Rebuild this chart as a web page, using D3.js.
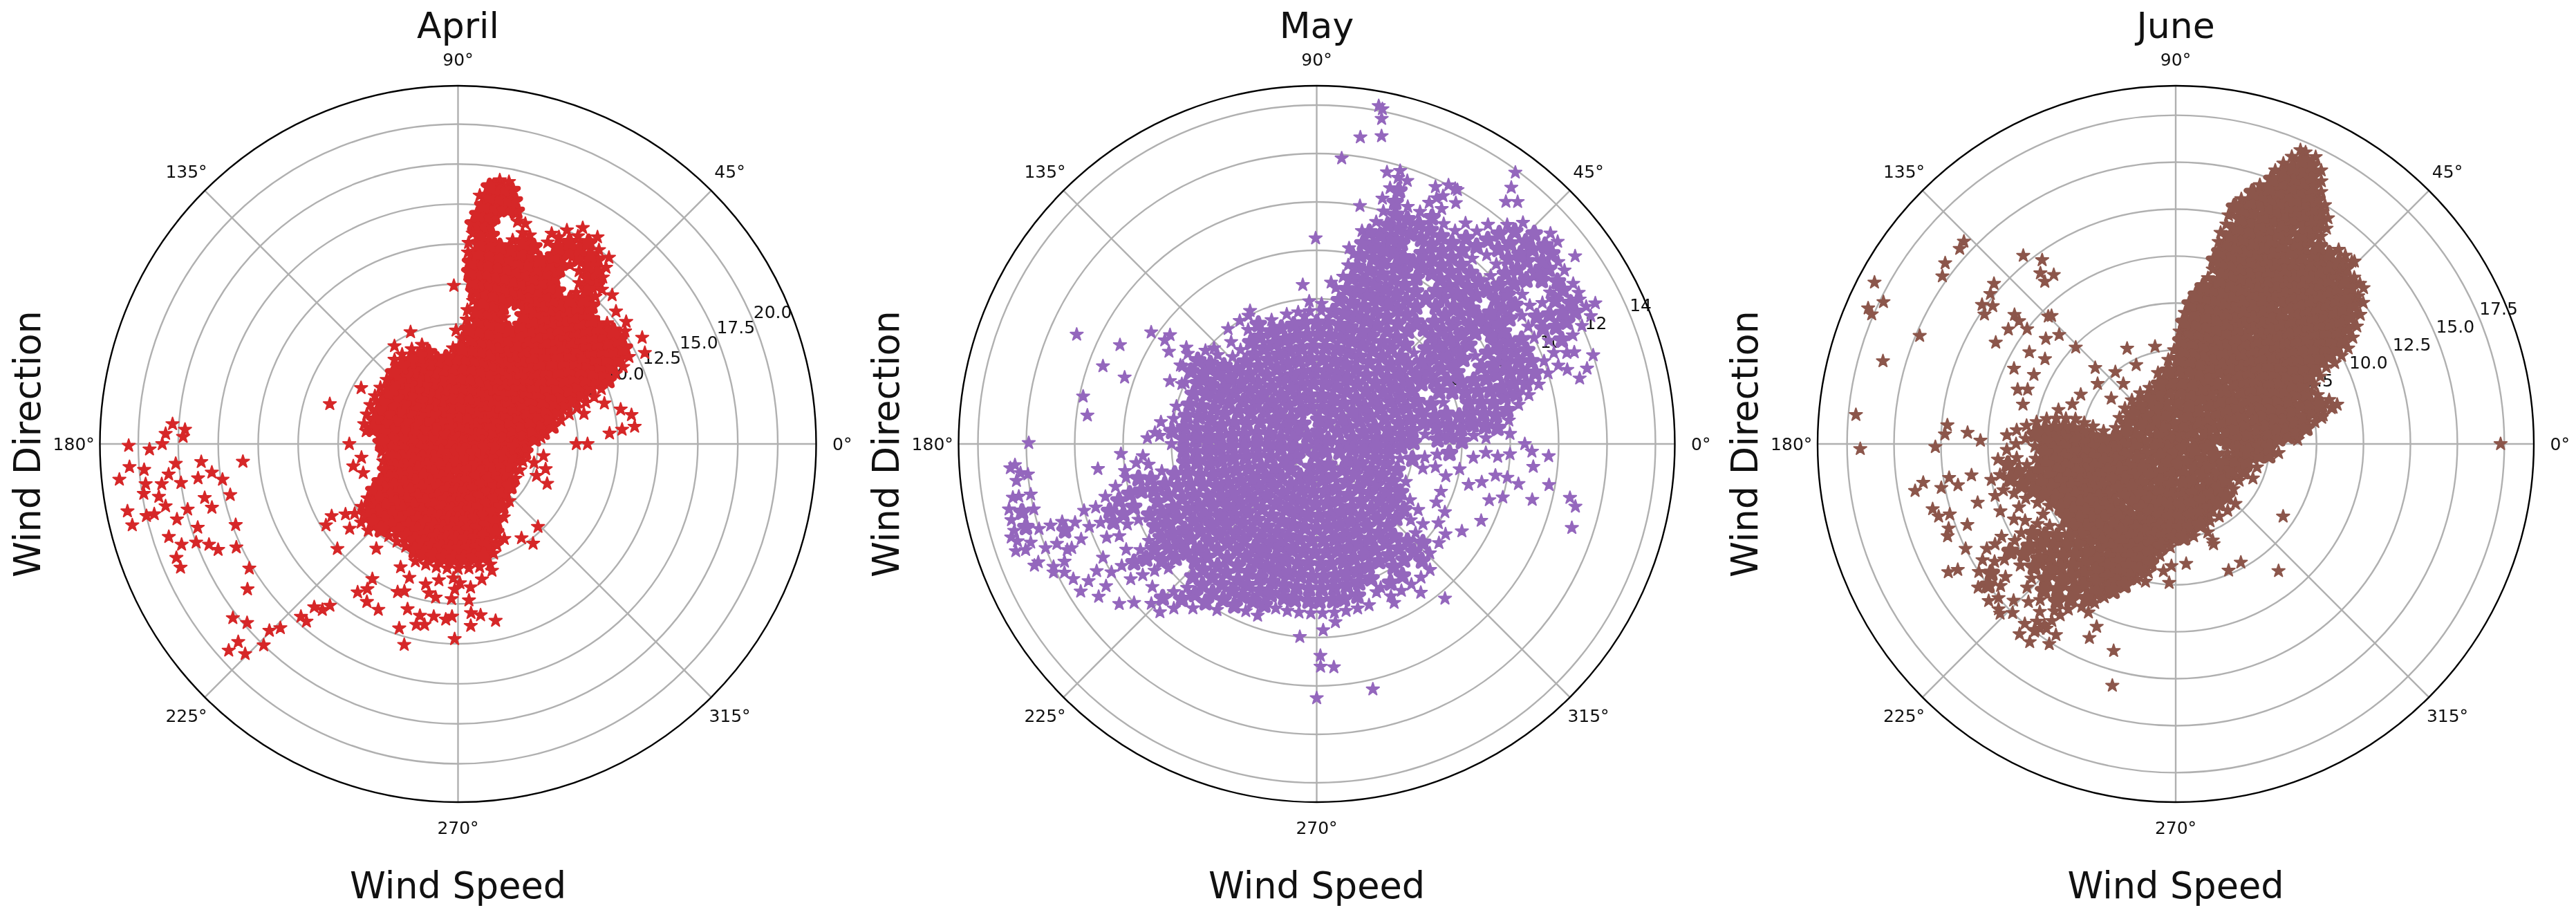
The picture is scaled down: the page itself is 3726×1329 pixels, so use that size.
<!DOCTYPE html>
<html><head><meta charset="utf-8">
<script src="https://cdn.jsdelivr.net/npm/d3@7/dist/d3.min.js"></script>
<style>html,body{margin:0;background:#fff}svg{display:block;filter:blur(0.7px)}text{font-family:"DejaVu Sans";fill:#111}</style>
</head><body><svg id="c" width="3726" height="1329"></svg>
<script>
const months=["April","May","June"];
const monthColors=["#d62728","#9467bd","#8c564b"];
const speedLimits=[22.4,14.8,19.07];
const angleTicks=[0,45,90,135,180,225,270,315];
const aprilSpeedTicks=[2.5,5,7.5,10,12.5,15,17.5,20];
const maySpeedTicks=[2,4,6,8,10,12,14];
const juneSpeedTicks=[2.5,5,7.5,10,12.5,15,17.5];

// dense cloud, read as [speed, [directions at that speed]]
const aprilDense=[
[.1,[0]],
[.6,[10,70,130,190,250,310]],
[1.2,[0,32,61,88,120,149,181,208,242,268,300,331]],
[1.8,[12,33,52,71,93,112,133,151,172,193,211,232,251,273,292,313,334,352]],
[2.4,[5,19,33,47,60,75,88,103,117,131,146,160,174,188,203,216,231,245,258,273,287,301,316,329,344,356]],
[3,[0,11,23,34,44,56,67,78,90,100,112,123,134,146,156,168,179,190,201,213,224,235,246,257,269,280,291,302,313,325,336,347]],
[3.6,[6,15,24,33,42,51,60,69,78,87,96,105,114,123,132,141,150,159,168,177,186,195,204,213,222,231,240,249,258,267,276,285,294,303,312,321,330,339,348,357]],
[4.2,[1,9,17,25,33,41,49,57,65,73,81,89,97,105,113,121,129,137,145,153,161,169,177,185,193,201,209,217,225,233,241,249,257,265,273,281,289,297,305,313,321,329,337,345,353]],
[4.8,[4,11,18,25,32,39,46,53,60,67,74,81,88,95,102,109,116,123,130,137,144,151,158,165,172,179,186,193,200,207,214,221,228,235,242,249,256,263,270,277,284,291,298,305,312]],
[5.4,[8,14,20,26,32,38,44,50,56,62,68,74,80,86,92,98,104,110,116,122,128,134,140,146,152,158,164,170,206,212,218,224,230,236,242,248,254,260,266,272,278,284,290,296,302]],
[6,[11,16,22,27,33,38,44,49,55,60,66,71,77,82,88,93,108,114,120,126,132,138,144,150,156,162,168,209,215,221,227,233,239,245,251,257,263,269,275,281,287,293]],
[6.6,[13,18,23,28,33,38,43,48,53,58,63,68,73,78,83,88,110,116,122,127,211,216,221,226,231,236,241,246,251,256,261,266,271,276,281,286,291]],
[7.2,[15,20,25,30,35,40,45,50,55,60,65,70,75,80,85,213,218,223,228,233,238,243,248,253,258,263,268,273,278,283,288]],
[7.8,[17,21,26,31,36,41,46,51,56,61,66,71,76,81,86,214,219,224,250,255,260,265,270,275,280,285]],
[8.4,[18,22,26,30,34,38,42,46,50,54,58,62,70,74,78,82,86]],
[9,[19,23,27,31,35,39,43,47,51,55,59,63,72,76,80,84]],
[9.6,[21,25,28,32,35,39,42,46,49,53,56,60,63,67,70,74,77,81,84]],
[10.2,[23,26,29,32,35,38,41,44,47,50,53,56,59,62,65,68,71,74,77,80,83,85]],
[10.8,[24,27,30,33,36,39,42,45,48,51,54,57,60,63,66,69,72,75,78,81,84,86]],
[11.4,[25,28,31,34,37,40,43,46,49,52,57,60,63,66,69,72,75,78,81,84,86]],
[12,[27,30,33,36,39,46,49,52,60,63,66,69,72,75,78,81,84,87]],
[12.6,[34,47,50,53,60,63,66,70,72,75,78,81,84,87]],
[13.2,[47,49,52,55,58,61,63,69,72,75,81,84,86]],
[13.8,[49,51,54,57,60,63,66,71,73,82,84,86]],
[14.4,[50,53,55,58,61,64,66,73,75,81,83,85]],
[15,[51,54,57,60,63,76,78,80,82,84]],
[15.6,[56,60,77,79,81,83,85]],
[16.2,[78,80,82,83]],
[16.7,[79,81]]
];
// separate stars, read as [direction, speed]
const aprilStrays=[[176,17.9],[177,17.1],[178,18.3],[180.3,20.6],[178.5,17.2],[180,18.5],[181,19.3],[184,20.6],[186,21.3],[184.7,19.7],[184,17.7],[186,18.2],[187.3,19.7],[189,19.9],[187.7,18.7],[190,19],[192,18.7],[188,17.5],[191.5,21.1],[194,21],[193,20],[193,19.5],[195,18.2],[193.6,17.4],[197.8,19],[200,18.4],[202,19],[204,19],[184,16.1],[184.7,13.5],[187.5,16.4],[186.6,15.5],[188.6,14.9],[192,16.2],[194.5,15.9],[192.6,14.6],[200,14.8],[197.8,17.1],[200.6,17.5],[202,16.8],[203.8,16.4],[205,15.3],[210.8,15.2],[214.6,16],[217.7,17.8],[220.3,17.3],[222,19.3],[222,18.5],[224.6,18.7],[226,17.5],[224.7,16.6],[226,16],[227.7,14.6],[228.6,13.6],[231.6,12.9],[229.5,14.6],[230.7,13.4],[221,10],[211.6,9.7],[209.7,9.1],[237.6,10],[235.9,11.2],[240,11.4],[244.3,11.5],[238,10.7],[247.8,10],[250,9.8],[252.3,12.1],[255,13],[253,10.8],[257.5,11],[257,11.6],[259.5,11.5],[262,10.9],[257,9],[259,9.5],[261.7,9.7],[266,11],[268,10.8],[269,12.2],[267.6,9.7],[268.7,9.1],[270.8,8.7],[275,9],[274,9.8],[274.4,10.6],[274,11.4],[277.5,10.8],[282,11.3],[304,7.1],[307,7.8],[314,7.2],[285,8.2],[291,6.8],[162.7,8.4],[0,7.4],[0,8.1],[4,9.5],[5,10.3],[5.6,11.1],[9.5,11],[12,10.4],[15.5,9.5],[13.5,8.1],[4.5,5.2],[352,5.4],[344,5.7],[336,6.1],[346,4.9],[338,5.3],[352,4],[180,6.8],[192,6.7],[188,6.1],[197,6.2],[212,8.3],[218,8.6],[232,8.3],[245,8.5],[250,8.9],[262,8.6],[268,8.4],[280,8.6],[296,6.6],[172,5.8],[150,7],[123,7.3],[113,7.6],[91,7.1],[91.5,9.9],[30,13.3],[26,13],[36,13],[44,13.4],[40,12.9]];

const mayDense=[
[.1,[0]],
[.5,[20,80,140,200,260,320]],
[1,[0,30,60,85,125,150,170,195,215,255,280,300,340]],
[1.5,[9,27,45,63,81,99,117,135,153,171,189,207,225,243,261,279,297,315,333,351]],
[2,[0,14,28,42,56,70,84,98,112,126,140,154,168,182,196,210,224,238,252,266,280,294,308,322,336,350]],
[2.5,[5,16,27,38,49,60,71,82,93,104,115,126,137,148,159,170,181,192,203,214,225,236,247,258,269,280,291,302,313,324,335,346,357]],
[3,[2,11,20,29,38,47,56,65,74,83,92,101,110,119,128,137,146,155,164,173,182,191,200,209,218,227,236,245,254,263,272,281,290,299,308,317,326,335,344,353]],
[3.5,[6,14,22,30,38,46,54,62,70,78,86,94,102,110,118,126,134,142,150,158,166,174,182,190,198,206,214,222,230,238,246,254,262,270,278,286,294,302,310,318,326,334,342,350,358]],
[4,[1,8,15,22,29,36,43,50,57,64,71,78,85,92,99,106,113,120,127,134,141,148,155,162,169,176,183,190,197,204,211,218,225,232,239,246,253,260,267,274,281,288,295,302,309,316,323,330,337,351]],
[4.5,[5,11,17,23,29,35,41,47,53,59,65,71,77,83,89,95,101,107,113,119,125,131,137,143,149,155,161,167,173,179,185,191,197,203,209,215,221,227,233,239,245,251,257,263,269,275,281,287,293,299,305,311,317,323,329,347,353]],
[5,[2,8,13,19,30,35,41,46,52,57,63,68,74,79,85,90,96,101,107,112,118,123,129,134,140,145,151,156,162,167,173,178,184,189,195,200,206,211,217,222,228,233,239,244,250,255,261,266,272,277,283,288,294,299,305,310,321,327,349,355]],
[5.5,[3,8,13,18,23,28,33,38,43,48,53,58,63,68,73,78,83,88,93,98,103,116,121,138,143,148,153,158,163,168,173,178,183,188,193,198,203,208,213,218,223,228,233,238,243,248,253,258,263,268,273,278,283,288,293,298,303,308,313,318,323,334,339,346,356]],
[6,[1,6,11,21,26,31,36,41,51,56,61,66,71,76,81,118,122,140,145,150,155,165,170,175,180,192,197,202,207,212,217,222,227,232,237,242,247,252,257,262,267,272,277,282,287,292,302,307,312,317,327,332,350]],
[6.5,[3,7,11,15,19,23,27,31,35,39,43,47,51,55,59,63,67,71,75,79,83,145,150,172,177,190,195,199,204,208,213,217,222,226,231,235,240,244,249,253,258,262,267,271,276,280,285,294,298,303,312,316,321,325,345,355]],
[7,[2,6,10,14,18,22,30,34,38,42,46,54,58,62,66,70,74,78,81,187,192,196,200,204,208,212,216,220,224,228,232,236,240,244,248,252,256,260,264,272,276,280,284,288,296,300,304,308,312,329,347,357]],
[7.5,[5,9,13,17,21,25,29,33,37,41,45,49,53,57,61,65,69,73,77,80,186,191,195,203,207,211,215,219,227,231,235,239,243,247,251,335,342,350,356]],
[8,[3,7,10,14,17,21,24,28,35,38,42,45,49,52,59,63,66,70,73,77,79,190,195,199,203,210,213,217,220,228,231,235,239,344,350,357]],
[8.5,[11,14,17,20,23,26,29,32,35,38,41,44,47,50,53,56,59,62,65,68,71,74,77,192,196,200,203,211,214,218,226,229,233]],
[9,[13,16,19,22,25,28,31,34,37,43,46,49,52,55,58,61,67,70,73,76,78,194,198,201,205,209,213,217,221,225,229]],
[9.5,[15,18,21,24,27,33,36,39,42,45,48,51,54,57,60,63,66,69,72,75,196,200,204,212,216,224,227]],
[10,[17,20,26,29,32,35,38,41,44,50,53,56,59,62,65,68,71,74,196,200,208,212,221]],
[10.5,[18,21,24,27,30,33,36,39,42,45,48,51,54,57,60,63,66,69,72,75,198,202,210,214,219]],
[11,[20,23,26,29,32,38,41,44,47,50,53,56,62,65,72,74,199,203,211,215,197]],
[11.5,[23,26,28,31,33,36,38,41,43,46,49,52,60,63,71,73,197,201,205,209,212]],
[12,[24,27,29,32,34,37,39,42,44,47,49,61,63,186,190,193,197,201,205]],
[12.5,[25,27,30,32,35,37,39,41,44,47,184,187,190,193,196,199,203]],
[13,[40,42,192,194,196,198]]
];
const mayStrays=[[78.9,14.1],[79.6,14.2],[78.7,13.7],[81.9,12.8],[78.1,13],[85,11.85],[75.5,11.6],[73,11.8],[79.7,10],[65.2,11.7],[61.5,12],[64,11.3],[90.3,8.5],[80.6,8.2],[95,6.6],[84.9,6.7],[36,13.2],[53.8,13.9],[52.8,13.3],[52,12.7],[50.3,13],[28.8,12.4],[26.8,12.9],[15.6,11.6],[17.8,12],[19.6,11.3],[14,11.2],[16.5,10.8],[357,9.6],[350,9.75],[345.5,9.2],[348,10.7],[346.4,11],[341.8,11.1],[354,9],[348.8,8.5],[0,8.6],[358,8.9],[305,7.5],[309.7,8.3],[296,7.3],[292,6.6],[265,8],[271,8.75],[271,9.2],[274.4,9.25],[282.9,10.4],[270,10.5],[268,7],[276,7.4],[272,7.7],[155.5,10.9],[153.3,9.1],[160,9.4],[160.9,8.4],[168.5,9.85],[172.9,9.55],[179.8,11.9],[146,8.25],[145.7,7.6],[143.4,7.55],[143.5,6.7],[148,7.2],[149.8,6.4],[156.8,6.6],[156,6.1],[182.9,8.1],[186.5,9.1],[137,5.8],[127.6,6],[116.6,6.15],[110,5.45],[130,5.5],[95.4,5.3],[93,5.9],[88,5.8],[184.5,12.7],[185.6,12.3],[203.3,12.7],[207,11.7],[203,11.2],[199.6,13.2],[200,12.8],[190,12.75],[178,7],[176,6.7],[184,7.2],[188,8],[206,12.1],[197,13.2]];

const juneDense=[
[.1,[0]],
[.5,[30,90,150,210,270,330]],
[1.1,[10,40,70,100,130,160,190,220,250,280,310,340]],
[1.7,[0,22,44,66,88,110,132,154,176,198,220,242,264,286,308,330,352]],
[2.2,[8,24,40,56,72,88,104,120,136,152,168,184,200,216,232,248,264,280,296,312,328,344]],
[2.8,[2,14,26,38,50,62,74,86,98,110,122,134,146,158,170,182,194,206,218,230,242,254,266,278,290,302,314,326,338,350]],
[3.3,[5,15,25,35,45,55,65,75,85,95,105,115,125,135,145,155,165,175,185,195,205,215,225,235,245,255,265,275,285,295,305,315,325,335,345,355]],
[3.9,[0,8,16,24,32,40,48,56,64,72,80,88,96,104,170,178,186,194,202,210,218,226,234,242,250,258,266,274,282,290,298,306,314,322,330,338,346,354]],
[4.5,[4,11,18,25,32,39,46,53,60,67,74,81,88,95,168,175,182,189,196,203,210,217,224,231,238,245,252,259,266,273,280,287,294,301,308,315,336,344,352,358]],
[5,[1,7,13,19,25,31,37,43,49,55,61,67,73,79,85,91,167,173,179,185,191,197,203,209,215,221,227,233,239,245,251,257,263,269,275,281,290,353,358]],
[5.5,[3,9,15,21,27,33,39,45,51,57,63,69,75,81,87,166,172,178,184,190,196,202,208,214,220,226,232,238,244,250,256,262,267,291,355]],
[6,[4,9,14,19,24,29,34,39,44,49,54,59,64,69,74,79,84,88,167,172,177,182,187,192,197,202,207,212,217,222,227,232,237,242,247,252,257,262]],
[6.5,[2,6,11,16,21,26,31,36,41,46,51,56,61,66,71,76,81,86,168,173,178,183,188,193,198,203,208,213,218,223,228,233,238,243,248,253,258]],
[7,[7,12,17,22,27,32,37,42,47,52,57,62,67,72,77,82,86,169,174,179,184,189,194,199,204,209,214,219,224,229,234,239,244,249,254,258]],
[7.5,[9,13,17,21,25,29,33,37,41,45,49,53,57,61,65,69,73,77,81,84,171,176,181,186,191,196,201,206,216,221,226,231,236,241,246,251,254]],
[8,[11,15,19,23,27,31,35,39,43,47,51,55,59,63,67,71,75,79,82,173,178,188,193,198,203,208,213,218,223,228,233,238,243,247,250]],
[8.5,[13,16,25,29,33,37,41,45,49,53,57,61,65,69,73,77,80,175,180,185,190,195,200,210,215,220,225,230,235,240,245,247]],
[9,[27,31,35,39,43,47,51,55,59,63,67,71,75,79,177,182,187,192,197,202,207,212,217,222,227,232,237,242,245]],
[9.5,[27,30,33,36,39,42,45,48,51,54,57,60,63,66,69,72,75,78,185,190,195,205,210,215,220,225,230,235,240,243]],
[10,[28,31,34,37,40,43,46,49,52,55,58,61,64,67,70,73,76,78,191,196,201,211,216,221,226,231,236,240]],
[10.5,[29,32,35,38,41,44,47,50,53,56,59,62,65,68,71,74,77,208,213,218,223,228,233,237]],
[11,[31,34,37,40,43,46,49,52,55,58,61,64,67,70,73,76,78,209,214,224,229,234,236]],
[11.5,[33,36,39,42,45,48,51,54,57,60,63,66,69,72,75,78,209,213,218,227,231,235]],
[12,[35,38,41,44,47,50,53,56,59,62,65,68,71,74,77,211,215,219,224,232,235]],
[12.5,[37,39,42,44,47,49,52,54,57,59,62,64,67,69,72,74,77,213,217,221,226,230,233]],
[13,[41,43,46,48,51,54,57,59,62,64,67,69,72,74,76,216,220,224]],
[13.5,[46,48,50,55,57,59,61,63,65,67,69,71,73,75]],
[14,[55,57,59,61,63,65,67,69,71,73]],
[14.5,[56,58,60,62,64,66,68,70,72]],
[15,[58,60,62,64,66,68,70]],
[15.5,[60,62,64,66,68,70]],
[16,[61,63,65,67,69]],
[16.5,[62,64,66,68]],
[17,[64,66,67]]
];
const juneStrays=[[0,17.3],[326,6.9],[309,8.7],[298.8,7.2],[292.7,7.3],[275,6.4],[267.3,7.4],[268,6.5],[257.6,7.5],[264.5,6.8],[290.7,5.7],[295,4.2],[253.3,11.5],[255.3,13.3],[246.6,10.6],[246,11.3],[242.6,10.1],[237.9,12],[237.7,12.6],[233.6,13.1],[230.6,13.1],[233.7,12.2],[234,11.9],[232.9,12.4],[223,12.9],[13.7,8.85],[13,8.6],[10.2,7.9],[45.6,13.6],[39.7,13],[46.6,12.7],[136.3,15.6],[137.9,15.5],[141.9,15.6],[144.3,15.3],[151.8,18.2],[154.1,17.3],[156.2,17.9],[156.9,17.6],[157.1,14.8],[164.2,16.2],[174.8,17.1],[180.9,16.8],[129,12.9],[126,12.1],[128.4,11.6],[125.8,11.1],[128.9,11.1],[138.6,12.9],[141,12.7],[144.3,12.7],[143,12.2],[145.9,12.3],[141.3,11],[141.9,10.6],[145.6,10.8],[142.3,10],[135,9.6],[134.1,9.5],[136.9,8.5],[141,8.9],[150.6,11],[147.9,9.2],[147,8.3],[154,8.4],[155,9.5],[136,7.4],[136.6,5.9],[117,5.7],[130,5],[116.6,4.7],[102,5.3],[142.4,5.25],[131,4.25],[161,8.9],[159.8,8.4],[165.5,8.4],[163.8,6.5],[159,5.9],[152.5,5.7],[144.8,4.2],[175.3,12.2],[177.6,12.3],[176.9,11.1],[179,10.4],[180.7,12.8],[188.7,13.6],[190.2,14.1],[190.6,12.7],[188.5,12.2],[190.7,11.8],[188.7,11],[196.5,11],[195,13.4],[197,13.2],[197.3,12.6],[200.4,12.9],[202,13.1],[201.2,11.9],[206.5,12.5],[209.4,13.9],[210,13.4]];

const denseRows=[aprilDense,mayDense,juneDense];
const strayRows=[aprilStrays,mayStrays,juneStrays];
const speedTickRows=[aprilSpeedTicks,maySpeedTicks,juneSpeedTicks];
const speedFormats=[d3.format(".1f"),d3.format("d"),d3.format(".1f")];
const coreStroke=[7.5,7,7.5];
const neighbourReach=[25,29,25];

const panelLeft=[662.5,1904.5,3147], centerY=642, radiusMax=518;
const svg=d3.select("#c");
const angle=d3.scaleLinear().domain([0,360]).range([Math.PI/2,Math.PI/2-2*Math.PI]);
const star=d3.symbol().type(d3.symbolStar).size(105)();

months.forEach((month,i)=>{
  const radius=d3.scaleLinear().domain([0,speedLimits[i]]).range([0,radiusMax]);
  const at=d=>d3.pointRadial(angle(d[0]),radius(d[1]));
  const place=d=>`translate(${at(d)})`;
  const g=svg.append("g").attr("transform",`translate(${panelLeft[i]},${centerY})`);
  const grid=g.append("g").attr("fill","none").attr("stroke","#b0b0b0").attr("stroke-width",2.4);
  grid.selectAll("circle").data(speedTickRows[i]).join("circle").attr("r",d=>radius(d));
  grid.selectAll("line").data(angleTicks).join("line")
    .attr("x2",d=>d3.pointRadial(angle(d),radiusMax)[0])
    .attr("y2",d=>d3.pointRadial(angle(d),radiusMax)[1]);
  g.selectAll("text.r").data(speedTickRows[i]).join("text").attr("class","r")
    .attr("x",d=>d3.pointRadial(angle(22.5),radius(d))[0])
    .attr("y",d=>d3.pointRadial(angle(22.5),radius(d))[1]-5)
    .attr("font-size",25).text(d=>speedFormats[i](d));
  // stars inside the cloud are thickened so they close up; those on its rim stay plain stars
  const dense=denseRows[i].flatMap(([s,dirs])=>dirs.map(d=>[d,s]));
  const xy=dense.map(at), reach=neighbourReach[i];
  const isCore=(_,k)=>{let n=0;xy.forEach((q,m)=>{if(m!==k&&Math.hypot(q[0]-xy[k][0],q[1]-xy[k][1])<reach)n++;});return n>=6;};
  const core=dense.filter(isCore), rim=dense.filter((d,k)=>!isCore(d,k));
  g.append("g").attr("fill",monthColors[i]).attr("stroke",monthColors[i]).attr("stroke-width",coreStroke[i]).attr("stroke-linejoin","round")
    .selectAll("path").data(core).join("path").attr("d",star).attr("transform",place);
  g.append("g").attr("fill",monthColors[i]).attr("stroke",monthColors[i]).attr("stroke-width",2).attr("stroke-linejoin","round")
    .selectAll("path").data(rim.concat(strayRows[i])).join("path").attr("d",star).attr("transform",place);
  g.append("circle").attr("r",radiusMax).attr("fill","none").attr("stroke","#000").attr("stroke-width",2.4);
  g.selectAll("text.a").data(angleTicks).join("text").attr("class","a")
    .attr("x",d=>d3.pointRadial(angle(d),radiusMax*1.073)[0])
    .attr("y",d=>d3.pointRadial(angle(d),radiusMax*1.073)[1])
    .attr("text-anchor","middle").attr("dominant-baseline","central")
    .attr("font-size",25).text(d=>d+"°");
  g.append("text").attr("text-anchor","middle").attr("y",-587).attr("font-size",52).text(month);
  g.append("text").attr("text-anchor","middle").attr("y",657).attr("font-size",52.5).text("Wind Speed");
  g.append("text").attr("text-anchor","middle").attr("transform",`translate(-605,0) rotate(-90)`).attr("font-size",52.5).text("Wind Direction");
});
</script></body></html>
